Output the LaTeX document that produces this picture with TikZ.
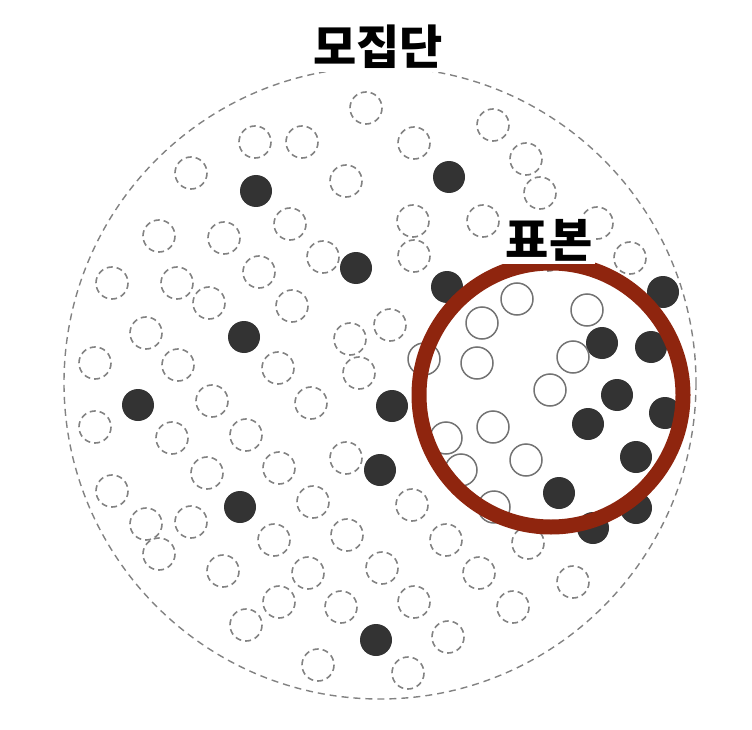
\documentclass[tikz,border=0pt]{standalone}
\usepackage{fontspec}
\newfontfamily\krfont{Noto Sans CJK KR}
\definecolor{ringred}{RGB}{143,37,14}
\definecolor{dashgray}{RGB}{130,130,130}
\definecolor{linegray}{RGB}{115,115,115}
\definecolor{dotblack}{RGB}{51,51,51}
\tikzset{ % common looks of the picture
	popline/.style={draw=dashgray, line width=1.4pt, dash pattern=on 7pt off 5pt},
	emptydot/.style={draw=dashgray, line width=1.6pt, dash pattern=on 6pt off 4pt},
	fulldot/.style={fill=dotblack},
	sampledot/.style={draw=linegray, line width=1.5pt},
	samplering/.style={draw=ringred, line width=15pt},
	biglabel/.style={fill=white, inner sep=3pt, font=\krfont\bfseries\fontsize{47}{47}\selectfont}
}
\begin{document}
\begin{tikzpicture}[x=1pt,y=-1pt]
	\useasboundingbox (0,0) rectangle (752,730);
	% Population, dashed members
	\foreach \x/\y in {366/108,255/142,302/142,414/143,493/125,191/173,346/181,526/159,540/193,
		159/236,224/238,290/224,413/221,483/221,597/223,323/257,259/272,414/256,630/258,548/255,
		112/283,177/283,209/303,292/306,390/325,146/333,350/339,95/363,178/365,278/368,359/373,
		212/401,311/403,95/427,172/438,246/435,346/458,207/473,279/468,112/491,313/502,146/524,
		191/522,347/535,274/540,159/554,223/571,308/573,382/568,279/602,341/607,246/625,318/665,
		412/505,446/540,528/543,479/573,573/582,414/602,513/607,448/637,408/673}
		\draw[emptydot] (\x,\y) circle (16);
	% Population, filled members
	\foreach \x/\y in {256/191,449/177,356/268,244/337,138/405,392/406,380/470,240/507,376/640,
		447/287,663/292,593/528,636/508,602/343,651/347,617/395,665/413,588/424,636/457,559/493}
		\fill[fulldot] (\x,\y) circle (16);
	% Population border
	\draw[popline] (380,383) circle (316);
	% Sample members
	\foreach \x/\y in {517/299,482/323,587/310,477/363,573/357,424/359,550/390,493/427,
		446/438,526/460,461/470,494/507}
		\draw[sampledot] (\x,\y) circle (16);
	% Sample ring
	\draw[samplering] (551,395) circle (132);
	% Labels
	\node[biglabel] (pop) at (378,47) {모집단};
	\node[biglabel] (smp) at (549,240) {표본};
\end{tikzpicture}
\end{document}
